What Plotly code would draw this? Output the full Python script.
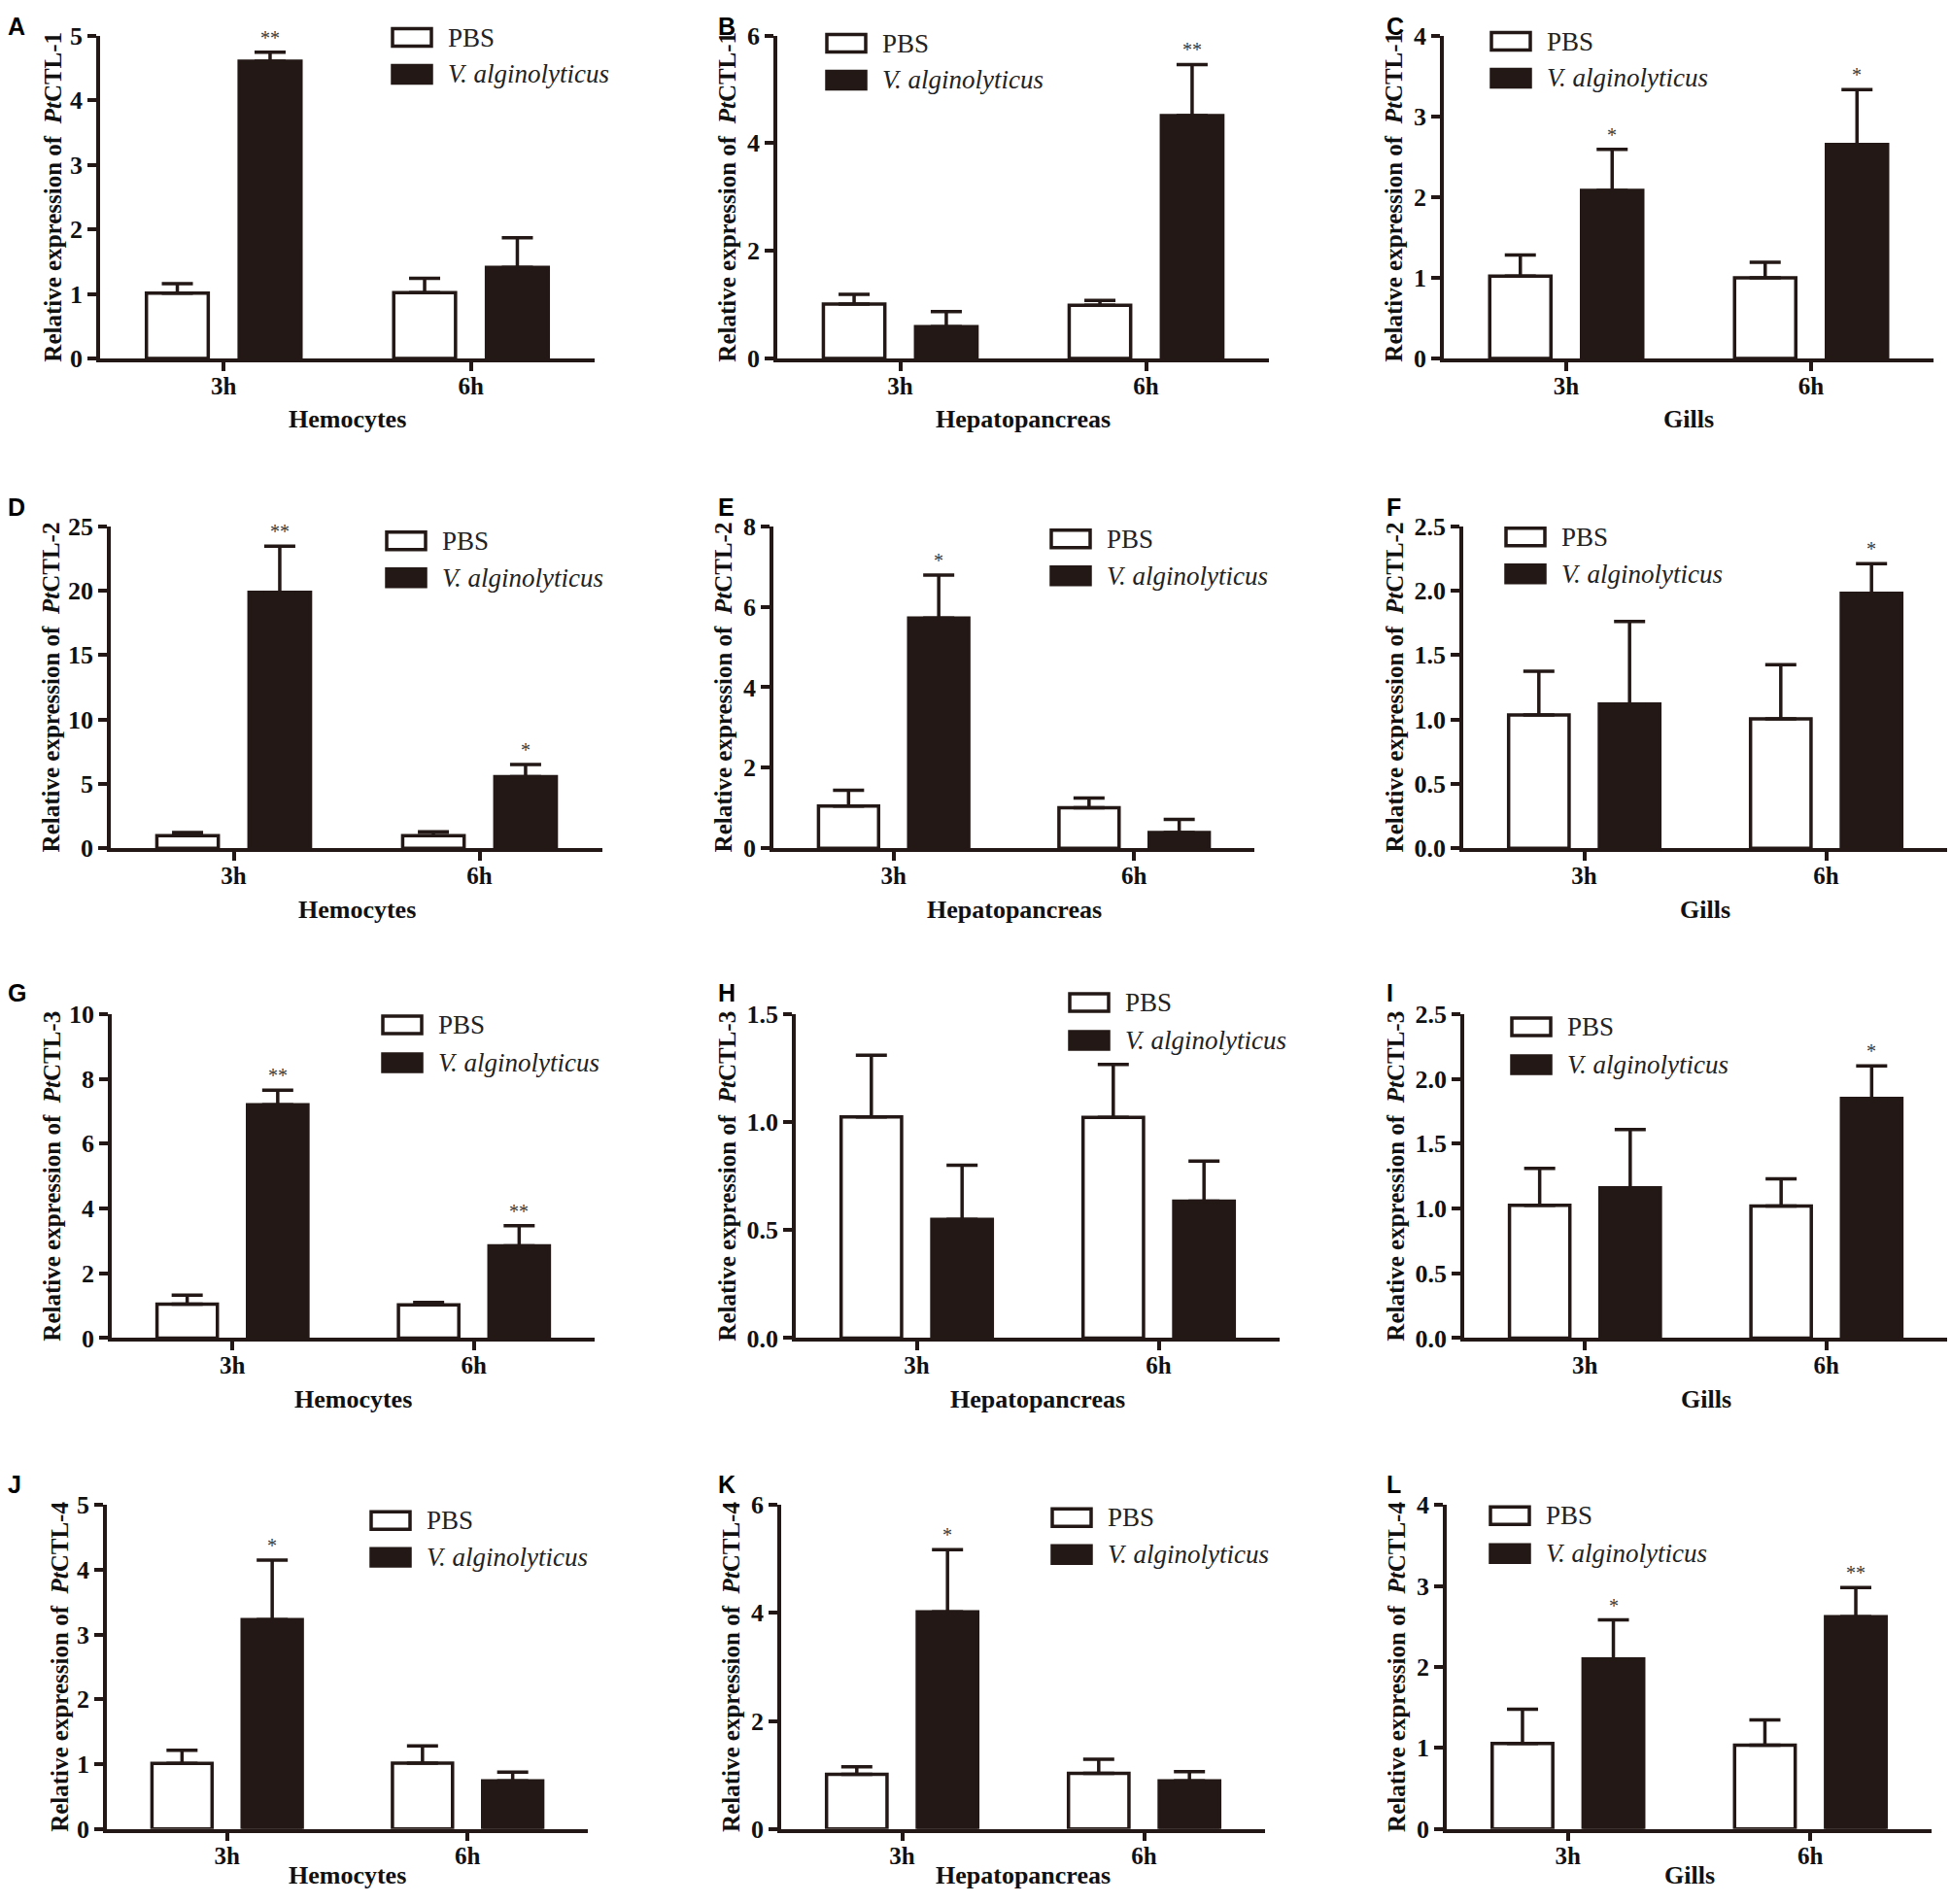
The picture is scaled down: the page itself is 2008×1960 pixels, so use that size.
import plotly.graph_objects as go
from plotly.subplots import make_subplots

# ---- data ----
times = ["3h", "6h"]
tissues = ["Hemocytes", "Hepatopancreas", "Gills"]
genes = ["CTL-1", "CTL-2", "CTL-3", "CTL-4"]
groups = ["PBS", "V. alginolyticus"]

# rows = tissues (Hemocytes, Hepatopancreas, Gills), cols = times (3h, 6h)
ctl1_pbs = [[1.01, 1.02], [1.01, 0.99], [1.02, 1.00]]
ctl1_pbs_err = [[0.15, 0.22], [0.18, 0.09], [0.26, 0.19]]
ctl1_vib = [[4.60, 1.41], [0.59, 4.51], [2.08, 2.65]]
ctl1_vib_err = [[0.14, 0.46], [0.28, 0.95], [0.51, 0.68]]
ctl1_sig = [["**", ""], ["", "**"], ["*", "*"]]

ctl2_pbs = [[0.98, 0.98], [1.05, 1.01], [1.035, 1.005]]
ctl2_pbs_err = [[0.25, 0.30], [0.39, 0.24], [0.34, 0.42]]
ctl2_vib = [[19.87, 5.56], [5.72, 0.39], [1.12, 1.98]]
ctl2_vib_err = [[3.58, 0.94], [1.07, 0.33], [0.64, 0.23]]
ctl2_sig = [["**", "*"], ["*", ""], ["", "*"]]

ctl3_pbs = [[1.05, 1.03], [1.024, 1.022], [1.025, 1.02]]
ctl3_pbs_err = [[0.28, 0.07], [0.286, 0.245], [0.285, 0.21]]
ctl3_vib = [[7.20, 2.85], [0.55, 0.634], [1.16, 1.85]]
ctl3_vib_err = [[0.45, 0.62], [0.25, 0.186], [0.45, 0.25]]
ctl3_sig = [["**", "**"], ["", ""], ["", "*"]]

ctl4_pbs = [[1.01, 1.015], [1.01, 1.03], [1.054, 1.034]]
ctl4_pbs_err = [[0.205, 0.265], [0.14, 0.26], [0.423, 0.311]]
ctl4_vib = [[3.23, 0.74], [4.02, 0.89], [2.10, 2.62]]
ctl4_vib_err = [[0.92, 0.135], [1.15, 0.17], [0.48, 0.36]]
ctl4_sig = [["*", ""], ["*", ""], ["*", "**"]]

# y axis max / tick step per panel
y_max = [[5, 6, 4], [25, 8, 2.5], [10, 1.5, 2.5], [5, 6, 4]]
y_step = [[1, 2, 1], [5, 2, 0.5], [2, 0.5, 0.5], [1, 2, 1]]

pbs_all = [ctl1_pbs, ctl2_pbs, ctl3_pbs, ctl4_pbs]
pbs_err_all = [ctl1_pbs_err, ctl2_pbs_err, ctl3_pbs_err, ctl4_pbs_err]
vib_all = [ctl1_vib, ctl2_vib, ctl3_vib, ctl4_vib]
vib_err_all = [ctl1_vib_err, ctl2_vib_err, ctl3_vib_err, ctl4_vib_err]
sig_all = [ctl1_sig, ctl2_sig, ctl3_sig, ctl4_sig]

# ---- layout geometry (target pixels in the 2008x1960 picture) ----
W, H = 2008, 1960
INK = "#231815"
x_px = [[(103, 612), (800, 1306), (1486, 1990)],
        [(114, 620), (796, 1291), (1506, 2004)],
        [(115, 612), (819, 1317), (1507, 2004)],
        [(110, 605), (804, 1302), (1489, 1988)]]
y_px = [(34, 367), (540, 872), (1043, 1377), (1549, 1883)]
# legend: box left, PBS centre y, V. alginolyticus centre y
leg_px = [[(404, 36, 74), (851, 42, 80), (1535, 40, 78)],
          [(398, 555, 593), (1082, 553, 591), (1550, 551, 589)],
          [(394, 1054, 1093), (1101, 1031, 1070), (1556, 1056, 1095)],
          [(382, 1565, 1603), (1083, 1562, 1600), (1534, 1560, 1599)]]
letter_y = [17, 520, 1021, 1528]
letter_x = [6, 737, 1425]
title_standoff = [2, 5, 5]
letters = "ABCDEFGHIJKL"

# the captured page comes out slightly squeezed vertically:
# picture_y ~= 11.45 + 0.9867 * page_y, so convert back
SQ_A, SQ_B = 11.45, 0.9867


def px(x):
    return x / W


def py(y, lo=0.0, hi=H):
    p = (y - SQ_A) / SQ_B
    p = min(max(p, lo), hi)
    return 1 - p / H


fig = make_subplots(rows=4, cols=3)
serif = "Liberation Serif"

for r in range(4):
    for c in range(3):
        n = r * 3 + c + 1
        ax = "" if n == 1 else str(n)
        xa, ya = "x" + ax, "y" + ax

        fig.add_trace(go.Bar(
            x=times, y=pbs_all[r][c], name=groups[0],
            width=0.25, offset=-0.3125,
            marker=dict(color="white", line=dict(color=INK, width=3.5)),
            error_y=dict(type="data", symmetric=False, array=pbs_err_all[r][c],
                         arrayminus=[0, 0], color=INK, thickness=3.5, width=16),
            showlegend=False), row=r + 1, col=c + 1)
        fig.add_trace(go.Bar(
            x=times, y=vib_all[r][c], name=groups[1],
            width=0.25, offset=0.0625,
            marker=dict(color=INK, line=dict(color=INK, width=3.5)),
            error_y=dict(type="data", symmetric=False, array=vib_err_all[r][c],
                         arrayminus=[0, 0], color=INK, thickness=3.5, width=16),
            showlegend=False), row=r + 1, col=c + 1)

        x0, x1 = x_px[r][c]
        top, zero = y_px[r]
        fig.update_layout(**{
            "xaxis" + ax: dict(
                domain=[px(x0), px(x1)], range=[-0.5, 1.5], type="category",
                showline=True, linecolor=INK, linewidth=3.5,
                ticks="outside", ticklen=9, tickwidth=3.5, tickcolor=INK,
                ticklabelstandoff=-6,
                tickfont=dict(family=serif, size=25, color="#111", weight="bold"),
                showgrid=False, zeroline=False),
            "yaxis" + ax: dict(
                domain=[py(zero), py(top)], range=[0, y_max[r][c]],
                dtick=y_step[r][c], tick0=0,
                tickformat=".1f" if y_step[r][c] < 1 else "d",
                showline=True, linecolor=INK, linewidth=3.5,
                ticks="outside", ticklen=9, tickwidth=3.5, tickcolor=INK,
                tickfont=dict(family=serif, size=26, color="#111", weight="bold"),
                title=dict(
                    text="<b>Relative expression of\u00a0 <i>Pt</i>" + genes[r] + "</b>",
                    font=dict(family=serif, size=25, color="#111"),
                    standoff=title_standoff[c]),
                showgrid=False, zeroline=False),
        })

        # significance marks
        for i, s in enumerate(sig_all[r][c]):
            if s:
                fig.add_annotation(
                    x=i + 0.1875, y=vib_all[r][c][i] + vib_err_all[r][c][i],
                    xref=xa, yref=ya, text=s, showarrow=False,
                    yanchor="bottom", yshift=2,
                    font=dict(family=serif, size=20, color="#3a3a3a"))

        # x title
        fig.add_annotation(
            x=(px(x0) + px(x1)) / 2, y=py(zero + 63, hi=1945),
            xref="paper", yref="paper",
            text="<b>" + tissues[c] + "</b>", showarrow=False,
            xanchor="center", yanchor="middle",
            font=dict(family=serif, size=26, color="#111"))
        # panel letter
        fig.add_annotation(
            x=px(letter_x[c]), y=py(letter_y[r], lo=13),
            xref="paper", yref="paper",
            text="<b>" + letters[n - 1] + "</b>", showarrow=False,
            xanchor="left", yanchor="middle",
            font=dict(family="Liberation Sans", size=25, color="black"))

        # legend
        lx, ly1, ly2 = leg_px[r][c]
        for fill, ly, label in [("white", ly1, groups[0]),
                                (INK, ly2, "<i>" + groups[1] + "</i>")]:
            fig.add_shape(type="rect", xref="paper", yref="paper",
                          x0=px(lx), x1=px(lx + 40), y0=py(ly + 9), y1=py(ly - 9),
                          fillcolor=fill, line=dict(color=INK, width=3.5))
            fig.add_annotation(
                x=px(lx + 55), y=py(ly), xref="paper", yref="paper",
                text=label, showarrow=False, xanchor="left", yanchor="middle",
                font=dict(family=serif, size=27, color="#222"))

fig.update_layout(
    width=W, height=H, margin=dict(l=0, r=0, t=0, b=0),
    barmode="overlay", plot_bgcolor="white", paper_bgcolor="white",
)

fig.write_html("out.html", config={"displayModeBar": False},
               post_script="document.body.style.margin='0';"
                           "document.documentElement.style.overflow='hidden';")
